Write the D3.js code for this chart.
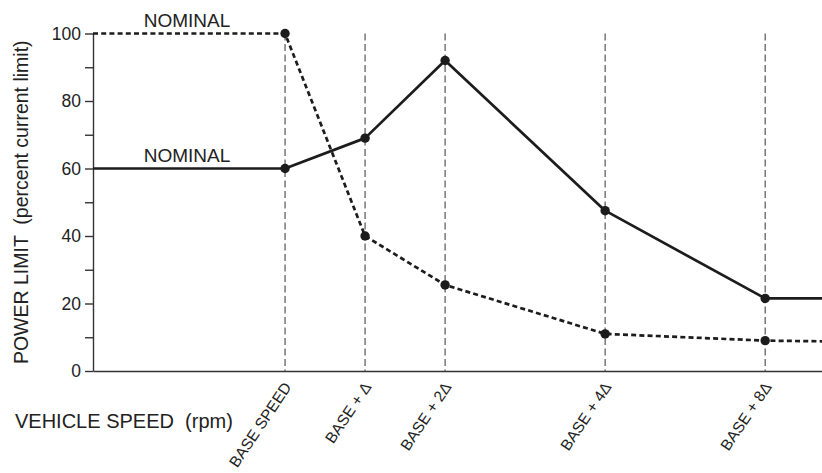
<!DOCTYPE html>
<html>
<head>
<meta charset="utf-8">
<script src="https://cdn.jsdelivr.net/npm/d3@7"></script>
<style>
  html, body { margin: 0; padding: 0; background: #fff; }
  svg { display: block; font-family: "Liberation Sans", Arial, Helvetica, sans-serif; }
  text { fill: #222; white-space: pre; }
</style>
</head>
<body>
<svg id="chart" width="822" height="473"></svg>
<script>
// Speed break points along the horizontal axis and their plotted positions
const categories = ["BASE SPEED", "BASE + \u0394", "BASE + 2\u0394", "BASE + 4\u0394", "BASE + 8\u0394"];
const catPos = [0, 1, 2, 4, 6];

// Power limit (percent of current limit) at each break point
const solidValues = [60, 69, 92, 47.5, 21.5];
const dashedValues = [100, 40, 25.5, 11, 9];

// Values where each curve meets the left axis and the right edge
const solidEnds = [60, 21.5];
const dashedEnds = [100, 8.8];

// Axis ticks
const yMajorTicks = [0, 20, 40, 60, 80, 100];
const yMinorTicks = [10, 30, 50, 70, 90];

const labelNominal = "NOMINAL";
const yTitle = "POWER LIMIT  (percent current limit)";
const xTitle = "VEHICLE SPEED  (rpm)";

const W = 822, H = 473;
const svg = d3.select("#chart");
svg.append("rect").attr("width", W).attr("height", H).attr("fill", "#fff");

const xMin = -2.4, xMax = 6.71;
const x = d3.scaleLinear().domain([xMin, xMax]).range([93, 822]);
const y = d3.scaleLinear().domain([0, 100]).range([371, 33.5]);

const ink = "#1c1c1c";

// Vertical dashed guides at each break point
svg.append("g").selectAll("line")
  .data(catPos)
  .join("line")
  .attr("x1", d => x(d)).attr("x2", d => x(d))
  .attr("y1", y(100)).attr("y2", y(0))
  .attr("stroke", "#555").attr("stroke-width", 1.2)
  .attr("stroke-dasharray", "7,3.5");

// Y axis: major ticks with labels, minor ticks without
const yAxisG = svg.append("g").attr("transform", `translate(${x(xMin)},0)`);
yAxisG.call(d3.axisLeft(y).tickValues(yMajorTicks).tickSize(8).tickSizeOuter(0).tickPadding(4).tickFormat(d3.format("d")));
yAxisG.append("g").call(d3.axisLeft(y).tickValues(yMinorTicks).tickSize(8).tickSizeOuter(0).tickFormat(""))
  .select(".domain").remove();
yAxisG.selectAll("path, line").attr("stroke", "#333").attr("stroke-width", 1.4);
yAxisG.selectAll("text").attr("font-size", 17.5).attr("fill", "#222")
  .attr("font-family", "Liberation Sans, Arial, sans-serif");

// X axis baseline
const xAxisG = svg.append("g").attr("transform", `translate(0,${y(0)})`);
xAxisG.call(d3.axisBottom(x).tickValues([]).tickSizeOuter(0));
xAxisG.selectAll("path").attr("stroke", "#333").attr("stroke-width", 1.4);

// Rotated break-point labels
svg.append("g").selectAll("text")
  .data(categories)
  .join("text")
  .attr("transform", (d, i) => `translate(${x(catPos[i]) + 7},${y(0) + 16}) rotate(-56)`)
  .attr("text-anchor", "end")
  .attr("font-size", 15.5)
  .text(d => d);

// Curves
const line = d3.line().x(d => x(d[0])).y(d => y(d[1]));
function series(values, ends) {
  return [[xMin, ends[0]], ...catPos.map((p, i) => [p, values[i]]), [xMax, ends[1]]];
}

svg.append("path")
  .datum(series(dashedValues, dashedEnds))
  .attr("d", line)
  .attr("fill", "none").attr("stroke", ink).attr("stroke-width", 2.7)
  .attr("stroke-dasharray", "5,3.2");

svg.append("path")
  .datum(series(solidValues, solidEnds))
  .attr("d", line)
  .attr("fill", "none").attr("stroke", ink).attr("stroke-width", 2.7)
  .attr("stroke-linejoin", "round");

// Markers at break points
[dashedValues, solidValues].forEach(vals => {
  svg.append("g").selectAll("circle")
    .data(vals)
    .join("circle")
    .attr("cx", (d, i) => x(catPos[i]))
    .attr("cy", d => y(d))
    .attr("r", 4.7)
    .attr("fill", ink);
});

// NOMINAL labels above the flat segments
const nominalX = (x(xMin) + x(0)) / 2 - 2;
svg.append("text").attr("x", nominalX).attr("y", y(dashedEnds[0]) - 7)
  .attr("text-anchor", "middle").attr("font-size", 19).text(labelNominal);
svg.append("text").attr("x", nominalX).attr("y", y(solidEnds[0]) - 7)
  .attr("text-anchor", "middle").attr("font-size", 19).text(labelNominal);

// Axis titles
svg.append("text")
  .attr("transform", `translate(28,${(y(0) + y(100)) / 2}) rotate(-90)`)
  .attr("text-anchor", "middle").attr("font-size", 19.5).text(yTitle);
svg.append("text").attr("x", 15).attr("y", 428)
  .attr("font-size", 20).text(xTitle);
</script>
</body>
</html>
